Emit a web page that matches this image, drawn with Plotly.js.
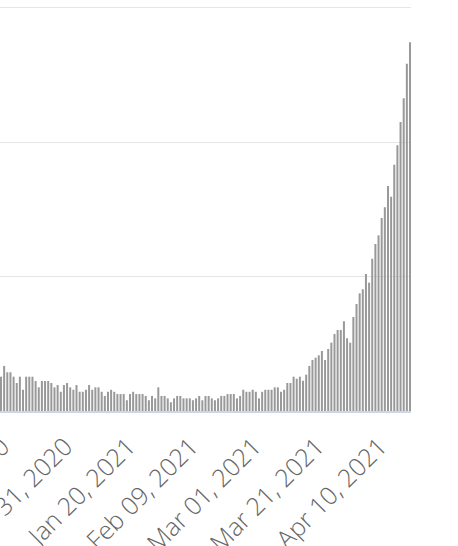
<!DOCTYPE html>
<html>
<head>
<meta charset="utf-8">
<script src="https://cdn.plot.ly/plotly-3.0.1.min.js"></script>
<style>html,body{margin:0;padding:0;background:#fff;}#chart{width:458px;height:546px;}</style>
</head>
<body>
<div id="chart"></div>
<script>
// Daily values (thousands), one per day starting at startDate
const startDate = "2020-12-09";
const dailyValues = [
  25.5, 33.5, 28.8, 28.8, 25.5, 20.8, 25.5, 15.8, 25.5, 25.5,
  25.5, 22.3, 17.6, 22.3, 22.3, 22.3, 20.8, 17.6, 19.3, 14.3,
  19.3, 20.8, 17.6, 15.8, 19.3, 14.3, 14.3, 15.8, 19.3, 15.8,
  17.6, 17.6, 14.3, 11.2, 14.3, 15.8, 14.3, 12.6, 12.6, 12.6,
  8.0, 12.6, 14.3, 12.6, 12.6, 12.6, 11.2, 8.0, 11.2, 9.4,
  17.6, 11.2, 11.2, 9.4, 6.5, 9.4, 11.2, 11.2, 9.4, 9.4,
  9.4, 8.0, 9.4, 11.2, 8.0, 11.2, 11.2, 9.4, 8.0, 9.4,
  11.2, 11.2, 12.6, 12.6, 12.6, 9.4, 11.2, 15.8, 14.3, 14.3,
  15.8, 14.3, 9.4, 14.3, 15.8, 15.8, 15.8, 17.6, 17.6, 14.3,
  15.8, 20.8, 20.8, 25.5, 24.0, 25.5, 22.5, 27.0, 33.5, 37.9,
  39.6, 41.4, 44.6, 37.9, 46.1, 50.8, 57.3, 60.2, 60.2, 66.7,
  54.1, 50.8, 69.9, 79.6, 87.5, 90.5, 101.9, 95.4, 113.2, 124.2,
  130.6, 143.5, 151.5, 167.3, 159.3, 183.1, 197.5, 214.9, 232.5, 258.2,
  274.1
];
const tickDates = ["2020-12-11", "2020-12-31", "2021-01-20", "2021-02-09", "2021-03-01", "2021-03-21", "2021-04-10"];
const tickLabels = ["Dec 11, 2020", "Dec 31, 2020", "Jan 20, 2021", "Feb 09, 2021", "Mar 01, 2021", "Mar 21, 2021", "Apr 10, 2021"];

function addDays(iso, n) {
  const d = new Date(iso + "T00:00:00Z");
  d.setUTCDate(d.getUTCDate() + n);
  return d.toISOString().slice(0, 10);
}
const dates = dailyValues.map((_, i) => addDays(startDate, i));
const yVals = dailyValues.map(v => v * 1000);

const trace = {
  type: "bar",
  x: dates,
  y: yVals,
  marker: {color: "#999999", line: {width: 0}},
  hoverinfo: "none"
};

const layout = {
  width: 458,
  height: 546,
  margin: {l: 0, r: 47, t: 0, b: 135, pad: 0},
  paper_bgcolor: "#ffffff",
  plot_bgcolor: "#ffffff",
  showlegend: false,
  bargap: 0.36,
  xaxis: {
    type: "date",
    range: ["2020-12-08 16:22", "2021-04-18 07:38"],
    tickmode: "array",
    tickvals: tickDates,
    ticktext: tickLabels,
    tickangle: -45,
    ticklabeloverflow: "allow",
    ticklabelstandoff: 9,
    ticklabelshift: -5,
    tickfont: {family: "Open Sans", size: 25, weight: 300, color: "#666666"},
    showgrid: false,
    zeroline: false,
    showline: true,
    linecolor: "#ccd6eb",
    linewidth: 2,
    ticks: ""
  },
  yaxis: {
    range: [0, 305576],
    tick0: 0,
    dtick: 100000,
    showticklabels: false,
    showgrid: true,
    gridcolor: "#e6e6e6",
    gridwidth: 1,
    zeroline: false,
    showline: false,
    ticks: ""
  }
};

Plotly.newPlot("chart", [trace], layout, {staticPlot: true, displayModeBar: false});
</script>
</body>
</html>
